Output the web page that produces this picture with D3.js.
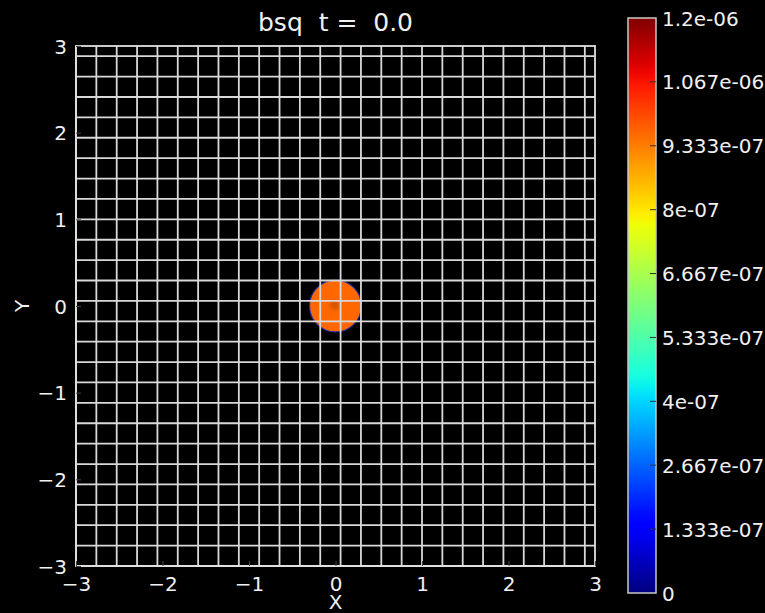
<!DOCTYPE html>
<html><head><meta charset="utf-8">
<script src="https://cdn.jsdelivr.net/npm/d3@7"></script>
<style>html,body{margin:0;padding:0;background:#000;}svg{display:block;}</style>
</head><body>
<svg id="c" width="765" height="613"></svg>
<script>
const titleText = "bsq  t =  0.0";
const xTicks = [-3, -2, -1, 0, 1, 2, 3];
const yTicks = [-3, -2, -1, 0, 1, 2, 3];
const meshX = [-3, -2.7647, -2.5294, -2.2941, -2.0588, -1.8235, -1.5882, -1.3529, -1.1176, -0.8824, -0.6471, -0.4118, -0.1765, 0.0588, 0.2941, 0.5294, 0.7647, 1.0, 1.2353, 1.4706, 1.7059, 1.9412, 2.1765, 2.4118, 2.6471, 2.8824];
const meshY = [-3, -2.7647, -2.5294, -2.2941, -2.0588, -1.8235, -1.5882, -1.3529, -1.1176, -0.8824, -0.6471, -0.4118, -0.1765, 0.0588, 0.2941, 0.5294, 0.7647, 1.0, 1.2353, 1.4706, 1.7059, 1.9412, 2.1765, 2.4118, 2.6471, 2.8824];
const cbTicks = [0, 1.333e-7, 2.667e-7, 4e-7, 5.333e-7, 6.667e-7, 8e-7, 9.333e-7, 1.067e-6, 1.2e-6];
const cbLabels = ["0", "1.333e-07", "2.667e-07", "4e-07", "5.333e-07", "6.667e-07", "8e-07", "9.333e-07", "1.067e-06", "1.2e-06"];
const blobs = [{x: 0, y: 0, r: 0.3, v: 9.6e-7}];
const spots = [{x: -0.01, y: 0.01, r: 0.05, v: 1.12e-6}];
const vMin = 0, vMax = 1.2e-6;

// jet colormap
const jetR = [[0,0],[0.35,0],[0.66,1],[0.89,1],[1,0.5]];
const jetG = [[0,0],[0.125,0],[0.375,1],[0.64,1],[0.91,0],[1,0]];
const jetB = [[0,0.5],[0.11,1],[0.34,1],[0.65,0],[1,0]];
function seg(pts, t){
  for (let i=1;i<pts.length;i++){
    if (t<=pts[i][0]){const a=pts[i-1], b=pts[i]; return a[1]+(b[1]-a[1])*(t-a[0])/(b[0]-a[0]);}
  }
  return pts[pts.length-1][1];
}
function jet(t){t=Math.max(0,Math.min(1,t));return d3.rgb(seg(jetR,t)*255, seg(jetG,t)*255, seg(jetB,t)*255).toString();}
const norm = d3.scaleLinear().domain([vMin, vMax]).range([0,1]).clamp(true);
const color = v => jet(norm(v));

const svg = d3.select("#c");
const L=76, R=595, T=46, B=566;
const x = d3.scaleLinear().domain([-3,3]).range([L,R]);
const y = d3.scaleLinear().domain([-3,3]).range([B,T]);
const font = "'DejaVu Sans', sans-serif";

const defs = svg.append("defs");
const flt = defs.append("filter").attr("id","blur").attr("x","-100%").attr("y","-100%").attr("width","300%").attr("height","300%");
flt.append("feGaussianBlur").attr("stdDeviation", 2.5);

// blobs
svg.append("g").selectAll("circle").data(blobs).join("circle")
  .attr("cx", d=>x(d.x)).attr("cy", d=>y(d.y)).attr("r", d=>x(d.r)-x(0))
  .attr("fill", d=>color(d.v)).attr("stroke", "#2030a0").attr("stroke-width", 1.2);
svg.append("g").selectAll("circle").data(spots).join("circle")
  .attr("cx", d=>x(d.x)).attr("cy", d=>y(d.y)).attr("r", d=>x(d.r)-x(0))
  .attr("fill", "#a04000").attr("opacity", 0.6).attr("filter","url(#blur)");

// mesh
const grid = svg.append("g").attr("stroke", "#d9d9d9").attr("stroke-width", 1.8);
grid.selectAll("line.v").data(meshX).join("line").attr("class","v")
  .attr("x1", d=>x(d)).attr("x2", d=>x(d)).attr("y1", T).attr("y2", B);
grid.selectAll("line.h").data(meshY).join("line").attr("class","h")
  .attr("y1", d=>y(d)).attr("y2", d=>y(d)).attr("x1", L).attr("x2", R);
svg.append("rect").attr("x", L).attr("y", T).attr("width", R-L).attr("height", B-T)
  .attr("fill","none").attr("stroke","#e0e0e0").attr("stroke-width", 1.8);

// axes
const fmt = d => d<0 ? "\u2212"+Math.abs(d) : String(d);
const xAxis = svg.append("g").attr("transform", `translate(0,${B})`)
  .call(d3.axisBottom(x).tickValues(xTicks).tickFormat(fmt).tickSize(-5).tickPadding(10));
const yAxis = svg.append("g").attr("transform", `translate(${L},0)`)
  .call(d3.axisLeft(y).tickValues(yTicks).tickFormat(fmt).tickSize(-5).tickPadding(9));
[xAxis, yAxis].forEach(g => {
  g.select(".domain").remove();
  g.selectAll(".tick line").attr("stroke", "#444").attr("stroke-width", 1);
  g.selectAll(".tick text").attr("fill", "#f0f0f0").attr("font-family", font).attr("font-size", 20);
});
xAxis.selectAll(".tick text").attr("dy", "0.75em");
yAxis.selectAll(".tick text").attr("dy", "0.36em");

// titles
svg.append("text").attr("x", (L+R)/2).attr("y", 31).attr("text-anchor","middle")
  .attr("fill","#f0f0f0").attr("font-family", font).attr("font-size", 25)
  .attr("xml:space","preserve").style("white-space","pre").text(titleText);
svg.append("text").attr("x", (L+R)/2).attr("y", 609).attr("text-anchor","middle")
  .attr("fill","#f0f0f0").attr("font-family", font).attr("font-size", 20).text("X");
svg.append("text").attr("transform", `translate(29,${(T+B)/2}) rotate(-90)`).attr("text-anchor","middle")
  .attr("fill","#f0f0f0").attr("font-family", font).attr("font-size", 20).text("Y");

// colorbar
const cbL = 628, cbR = 656, cbT = 18, cbB = 593;
const cy = d3.scaleLinear().domain([vMin, vMax]).range([cbB, cbT]);
const grad = defs.append("linearGradient").attr("id","jetg").attr("x1",0).attr("y1",1).attr("x2",0).attr("y2",0);
grad.selectAll("stop").data(d3.range(0, 1.0001, 0.02)).join("stop")
  .attr("offset", d=>d).attr("stop-color", d=>jet(d));
svg.append("rect").attr("x", cbL).attr("y", cbT).attr("width", cbR-cbL).attr("height", cbB-cbT)
  .attr("fill","url(#jetg)").attr("stroke","#c8c8c8").attr("stroke-width", 1.5);
const cbAxis = svg.append("g").attr("transform", `translate(${cbR},0)`)
  .call(d3.axisRight(cy).tickValues(cbTicks).tickFormat((d,i)=>cbLabels[i]).tickSize(0).tickPadding(6));
cbAxis.select(".domain").remove();
cbAxis.selectAll(".tick text").attr("fill","#f0f0f0").attr("font-family", font).attr("font-size", 20).attr("dy","0.36em");
svg.append("g").selectAll("line").data(cbTicks.slice(1, -1)).join("line")
  .attr("x1", cbR-6).attr("x2", cbR).attr("y1", d=>cy(d)).attr("y2", d=>cy(d))
  .attr("stroke", "#333").attr("stroke-width", 1);
</script>
</body></html>
